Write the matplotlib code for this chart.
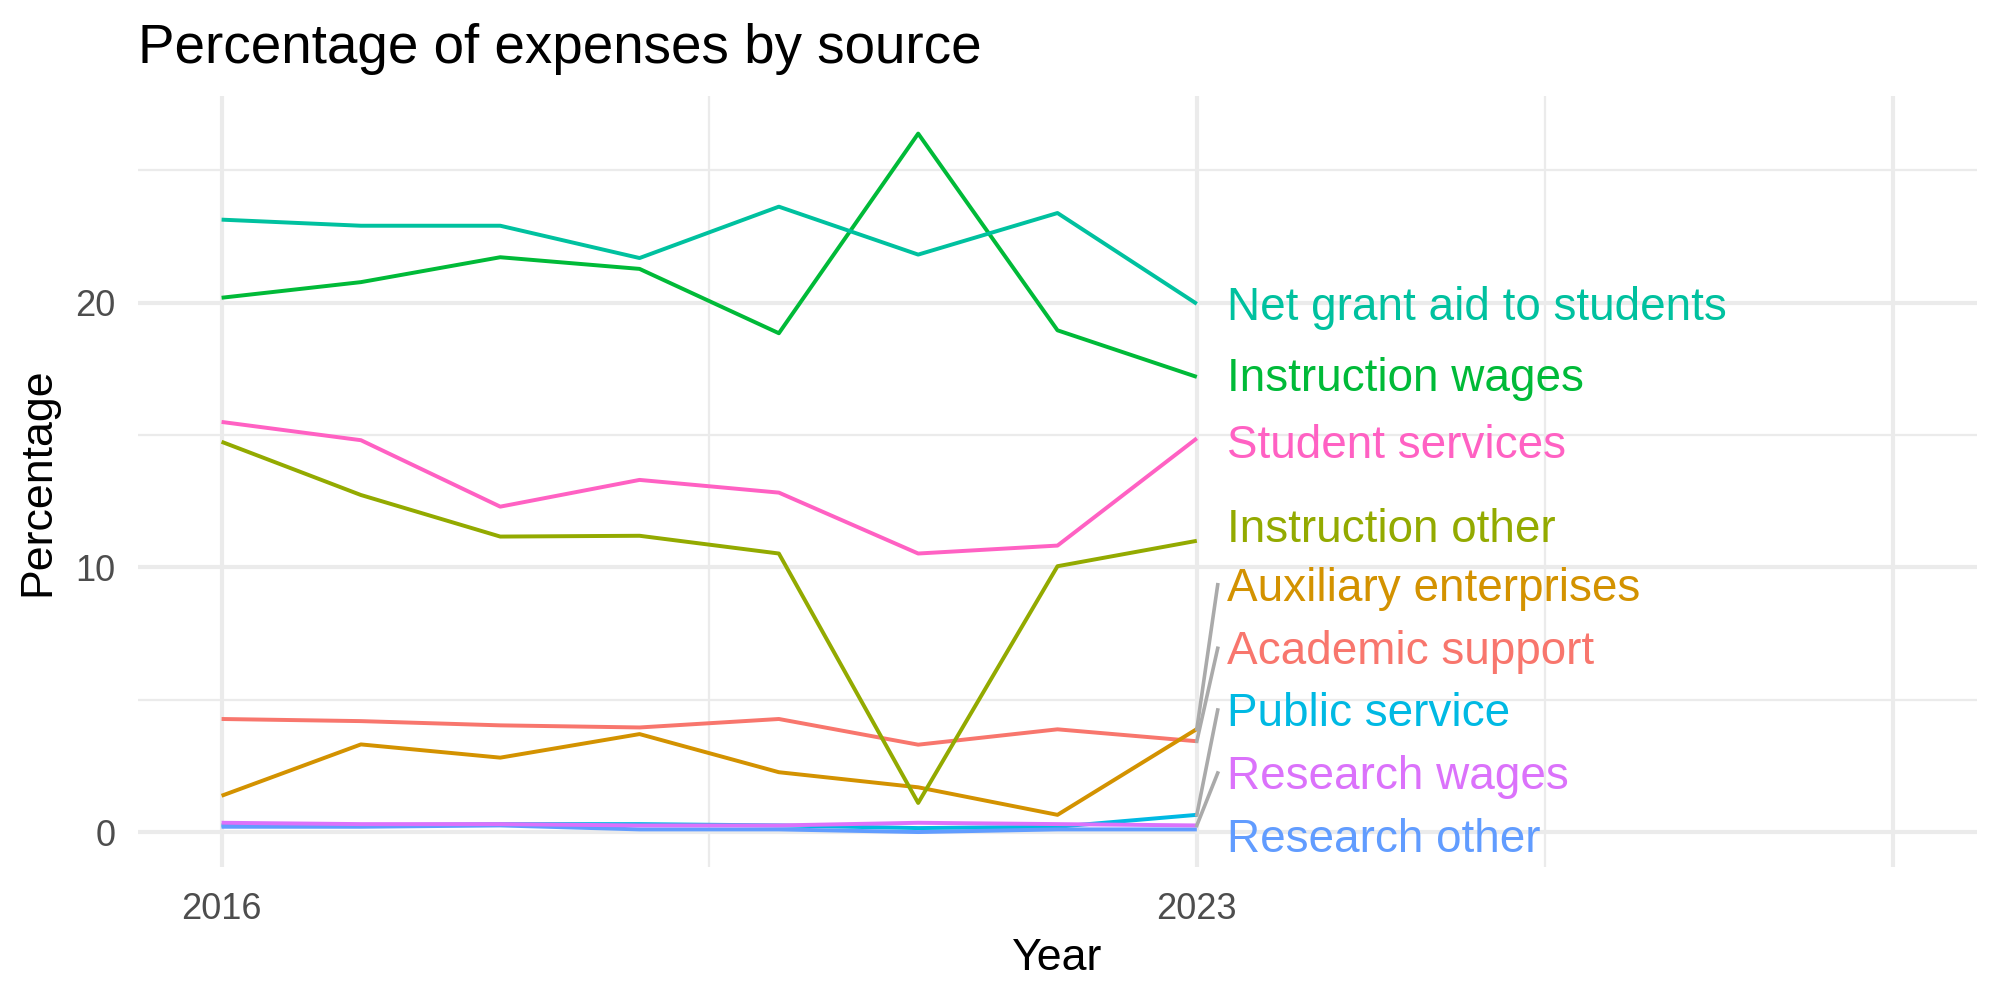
import matplotlib
matplotlib.use("Agg")
import matplotlib.pyplot as plt

plt.rcParams['font.family'] = ['Liberation Sans', 'DejaVu Sans']

years = [2016, 2017, 2018, 2019, 2020, 2021, 2022, 2023]

# series in ggplot factor (alphabetical) order
sources = [
    "Academic support",
    "Auxiliary enterprises",
    "Instruction other",
    "Instruction wages",
    "Net grant aid to students",
    "Public service",
    "Research other",
    "Research wages",
    "Student services",
]
academic_support = [4.27, 4.19, 4.03, 3.95, 4.27, 3.30, 3.88, 3.43]
auxiliary_enterprises = [1.37, 3.31, 2.81, 3.70, 2.26, 1.69, 0.65, 3.89]
instruction_other = [14.74, 12.73, 11.16, 11.19, 10.52, 1.10, 10.04, 11.00]
instruction_wages = [20.18, 20.77, 21.71, 21.27, 18.84, 26.38, 18.95, 17.19]
net_grant_aid = [23.13, 22.90, 22.90, 21.68, 23.62, 21.81, 23.38, 19.95]
public_service = [0.25, 0.25, 0.30, 0.30, 0.25, 0.15, 0.20, 0.65]
research_other = [0.20, 0.20, 0.25, 0.10, 0.10, 0.00, 0.10, 0.10]
research_wages = [0.35, 0.30, 0.30, 0.25, 0.25, 0.35, 0.30, 0.25]
student_services = [15.49, 14.80, 12.29, 13.30, 12.82, 10.52, 10.82, 14.87]

values = [academic_support, auxiliary_enterprises, instruction_other,
          instruction_wages, net_grant_aid, public_service, research_other,
          research_wages, student_services]

colors = ["#F8766D", "#D39200", "#93AA00", "#00BA38", "#00C19F",
          "#00B9E3", "#619CFF", "#DB72FB", "#FF61C3"]

# repelled label baselines (data units) and whether a connector is drawn
label_y = [6.34, 8.74, 10.96, 16.64, 19.35, 4.01, -0.77, 1.63, 14.13]
label_seg = [True, True, False, False, False, True, False, True, False]

fig = plt.figure(figsize=(10, 5), dpi=200)
ax = fig.add_axes([0.069, 0.133, 0.9195, 0.771])

grid = "#EBEBEB"
for x in [2016, 2023, 2028]:
    ax.axvline(x, color=grid, lw=1.5, zorder=0)
for x in [2019.5, 2025.5]:
    ax.axvline(x, color=grid, lw=0.8, zorder=0)
for y in [0, 10, 20]:
    ax.axhline(y, color=grid, lw=1.5, zorder=0)
for y in [5, 15, 25]:
    ax.axhline(y, color=grid, lw=0.8, zorder=0)

for name, vals, c in zip(sources, values, colors):
    ax.plot(years, vals, color=c, lw=1.42, solid_capstyle="butt", zorder=2)

label_x = 2023.22
seg_x = 2023.15
for name, vals, c, ly, seg in zip(sources, values, colors, label_y, label_seg):
    if seg:
        ax.plot([years[-1], seg_x], [vals[-1], ly + 0.6], color="#AAAAAA",
                lw=1.3, zorder=3)
    ax.text(label_x, ly, name, color=c, fontsize=16.5, ha="left",
            va="baseline", zorder=4)

ax.set_xlim(2015.4, 2028.6)
ax.set_ylim(-1.32, 27.8)
ax.set_xticks([2016, 2023])
ax.set_yticks([0, 10, 20])
ax.tick_params(length=0, labelsize=13, labelcolor="#4D4D4D")
ax.tick_params(axis="x", pad=9)
ax.tick_params(axis="y", pad=8)
for s in ax.spines.values():
    s.set_visible(False)

ax.set_xlabel("Year", fontsize=16.1, labelpad=4)
ax.set_ylabel("Percentage", fontsize=16.1, labelpad=6)
ax.set_title("Percentage of expenses by source", loc="left", fontsize=19.7,
             pad=12)

fig.savefig("out.png", dpi=200)
